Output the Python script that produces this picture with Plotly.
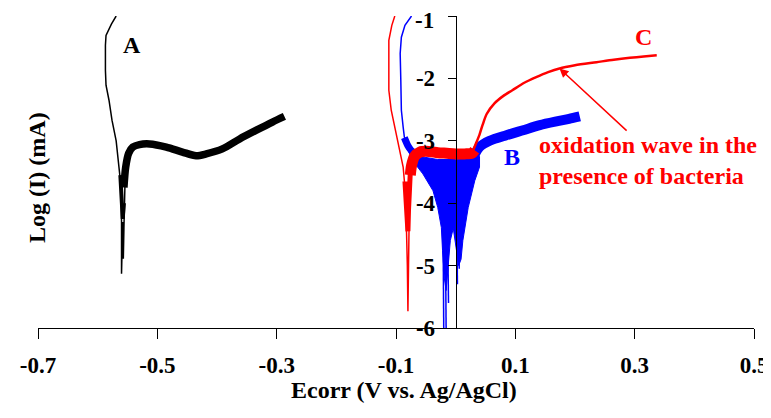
import plotly.graph_objects as go

# ---------------- data ----------------
x_ticks = [-0.7, -0.5, -0.3, -0.1, 0.1, 0.3, 0.5]
x_tick_text = ["-0.7", "-0.5", "-0.3", "-0.1", "0.1", "0.3", "0.5"]
y_ticks = [-6, -5, -4, -3, -2, -1]
y_tick_text = ["-6", "-5", "-4", "-3", "-2", "-1"]

# Curve A (black)
A_thin_x = [-0.569, -0.577, -0.586, -0.587, -0.587, -0.586, -0.581, -0.576, -0.569,
            -0.564, -0.561, -0.560, -0.560, -0.558, -0.557, -0.556, -0.555, -0.554]
A_thin_y = [-1.00, -1.13, -1.31, -1.47, -1.87, -2.11, -2.35, -2.67, -3.00,
            -3.42, -3.72, -4.28, -5.13, -4.30, -4.89, -4.40, -3.96, -3.60]
A_foot_x = [-0.562, -0.560, -0.558, -0.556]
A_foot_y = [-3.55, -3.90, -4.25, -4.00]
A_band_x = [-0.556, -0.553, -0.548, -0.541, -0.530, -0.513, -0.485, -0.458, -0.435,
            -0.418, -0.391, -0.362, -0.334, -0.307, -0.287]
A_band_y = [-3.75, -3.42, -3.20, -3.10, -3.06, -3.05, -3.10, -3.18, -3.24,
            -3.21, -3.13, -2.97, -2.83, -2.70, -2.61]

# Curve B (blue)
B_thin_x = [-0.074, -0.085, -0.091, -0.093, -0.092, -0.091, -0.088, -0.086, -0.080]
B_thin_y = [-1.00, -1.15, -1.34, -1.60, -2.00, -2.51, -2.78, -2.94, -3.05]
B_start_x = [-0.086, -0.080, -0.075, -0.065, -0.055]
B_start_y = [-2.95, -3.08, -3.15, -3.22, -3.26]
B_v_x = [-0.080, -0.072, -0.055, -0.038, -0.030, -0.024, -0.022, -0.019, -0.016, -0.013,
         -0.009, -0.004, 0.001, 0.005, 0.009, 0.012, 0.021, 0.032, 0.040, 0.040,
         0.020, 0.000, -0.030, -0.060, -0.080]
B_v_y = [-3.15, -3.32, -3.53, -3.80, -4.07, -4.39, -4.76, -5.20, -5.40, -5.10,
         -4.60, -4.40, -4.70, -5.00, -4.90, -4.60, -4.07, -3.64, -3.42, -3.25,
         -3.28, -3.30, -3.30, -3.25, -3.05]
B_spike_x = [-0.021, -0.020, None, -0.017, -0.016, None, -0.013, -0.012, None,
             0.002, 0.003, None, 0.005, 0.006]
B_spike_y = [-4.60, -6.00, None, -4.80, -6.00, None, -4.80, -5.60, None,
             -4.50, -5.30, None, -4.60, -5.05]
B_band_x = [0.025, 0.032, 0.040, 0.057, 0.085, 0.113, 0.141, 0.169, 0.190, 0.208]
B_band_y = [-3.40, -3.22, -3.10, -3.00, -2.91, -2.83, -2.75, -2.69, -2.65, -2.61]

# Curve C (red)
C_thin_x = [-0.102, -0.107, -0.112, -0.112, -0.108, -0.102, -0.094, -0.088, -0.086,
            -0.083, -0.081, -0.080, -0.079, -0.078]
C_thin_y = [-1.00, -1.15, -1.39, -2.19, -2.51, -2.78, -3.16, -3.42, -3.64,
            -4.20, -5.00, -5.73, -5.00, -4.30]
C_foot_x = [-0.085, -0.083, -0.081, -0.080, -0.079, -0.078, -0.076]
C_foot_y = [-3.65, -3.90, -4.20, -4.45, -4.10, -3.80, -3.50]
C_band_x = [-0.076, -0.074, -0.069, -0.060, -0.045, -0.030, -0.015, 0.000,
            0.015, 0.027, 0.032]
C_band_y = [-3.55, -3.40, -3.25, -3.18, -3.17, -3.19, -3.20, -3.21,
            -3.21, -3.20, -3.15]
C_wave_x = [0.029, 0.035, 0.040, 0.045, 0.052, 0.065, 0.080, 0.095, 0.115, 0.135,
            0.155, 0.174, 0.200, 0.236, 0.265, 0.292, 0.315, 0.337]
C_wave_y = [-3.16, -3.02, -2.90, -2.75, -2.57, -2.40, -2.28, -2.19, -2.07, -1.98,
            -1.90, -1.84, -1.79, -1.74, -1.70, -1.67, -1.65, -1.63]

# labels
label_text = ["A", "B", "C"]
label_x = [-0.542, 0.094, 0.314]
label_y = [-1.47, -3.26, -1.34]
arrow_head = (0.174, -1.84)
arrow_tail = (0.289, -2.86)

BLACK, BLUE, RED = "#000000", "#0000FF", "#FF0000"
FONT = "Liberation Serif"

fig = go.Figure()

def line(x, y, color, width, smooth=False):
    ln = dict(color=color, width=width)
    if smooth:
        ln.update(shape="spline", smoothing=0.8)
    fig.add_trace(go.Scatter(x=x, y=y, mode="lines", line=ln,
                             hoverinfo="skip", showlegend=False))

# A
line(A_thin_x, A_thin_y, BLACK, 1.5)
line(A_foot_x, A_foot_y, BLACK, 4)
line(A_band_x, A_band_y, BLACK, 7.5, smooth=True)

# B
line(B_thin_x, B_thin_y, BLUE, 1.5)
line(B_start_x, B_start_y, BLUE, 7, smooth=True)
fig.add_trace(go.Scatter(x=B_v_x, y=B_v_y, mode="lines", fill="toself",
                         fillcolor=BLUE, line=dict(color=BLUE, width=1),
                         hoverinfo="skip", showlegend=False))
line(B_spike_x, B_spike_y, BLUE, 1.5)
line(B_band_x, B_band_y, BLUE, 10, smooth=True)

# C
line(C_thin_x, C_thin_y, RED, 1.5)
line(C_foot_x, C_foot_y, RED, 5)
line(C_band_x, C_band_y, RED, 11, smooth=True)
line(C_wave_x, C_wave_y, RED, 2.5, smooth=True)

# layout geometry (page body has an 8px margin, so the figure is offset by 8px)
OFF = 8
W, H = 771 - OFF, 418 - OFF
L, T = 38 - OFF, 16 - OFF
R = W - (754 - OFF)
B = H - (328 - OFF)
pw, ph = W - L - R, H - T - B

def px_to_paper(px, py):
    fx, fy = px - OFF, py - OFF
    return (fx - L) / pw, (H - fy - B) / ph

tickfont = dict(family=FONT, size=23, color=BLACK, weight="bold")

annotations = []
for t, x, y, c in zip(label_text, label_x, label_y, [BLACK, BLUE, RED]):
    annotations.append(dict(x=x, y=y, xref="x", yref="y", text=t, showarrow=False,
                            font=dict(family=FONT, size=24, color=c, weight="bold")))
annotations.append(dict(x=0.136, y=-3.32, xref="x", yref="y",
                        text="oxidation wave in the<br>presence of bacteria",
                        xanchor="left", yanchor="middle", align="left", showarrow=False,
                        font=dict(family=FONT, size=24, color=RED, weight="bold")))
annotations.append(dict(x=arrow_head[0], y=arrow_head[1], ax=arrow_tail[0], ay=arrow_tail[1],
                        xref="x", yref="y", axref="x", ayref="y", text="", showarrow=True,
                        arrowhead=2, arrowsize=1.2, arrowwidth=1.5, arrowcolor=RED, standoff=0))
# top y tick label drawn as text so it is not cut at the page edge
annotations.append(dict(x=0, y=y_ticks[-1], xref="x", yref="y", text=y_tick_text[-1],
                        xanchor="right", yanchor="middle", xshift=-20, yshift=-4,
                        showarrow=False, font=tickfont))
tx, ty = px_to_paper(404, 405)
annotations.append(dict(x=tx, y=ty, xref="paper", yref="paper", text="Ecorr (V vs. Ag/AgCl)",
                        showarrow=False, font=dict(family=FONT, size=24, color=BLACK, weight="bold")))
yx, yy = px_to_paper(22, 178)
annotations.append(dict(x=yx, y=yy, xref="paper", yref="paper", text="Log (I) (mA)",
                        textangle=-90, showarrow=False,
                        font=dict(family=FONT, size=24, color=BLACK, weight="bold")))

fig.update_layout(
    width=W, height=H, margin=dict(l=L, r=R, t=T, b=B, autoexpand=False),
    paper_bgcolor="white", plot_bgcolor="white",
    showlegend=False, annotations=annotations,
    xaxis=dict(range=[-0.7, 0.5], showgrid=False, zeroline=False, showline=True,
               linecolor=BLACK, linewidth=1, ticks="outside", ticklen=10, tickcolor=BLACK,
               tickvals=x_ticks, ticktext=x_tick_text, tickfont=tickfont,
               ticklabelstandoff=6, automargin=False, ticklabeloverflow="allow"),
    yaxis=dict(range=[-6, -1], showgrid=False, zeroline=False, showline=True,
               linecolor=BLACK, linewidth=1, ticks="outside", ticklen=8, tickcolor=BLACK,
               tickvals=y_ticks, ticktext=y_tick_text[:-1] + [""], tickfont=tickfont,
               anchor="free", position=0.7 / 1.2, ticklabelstandoff=8, automargin=False,
               ticklabeloverflow="allow"),
)

fig.write_html("out.html")
